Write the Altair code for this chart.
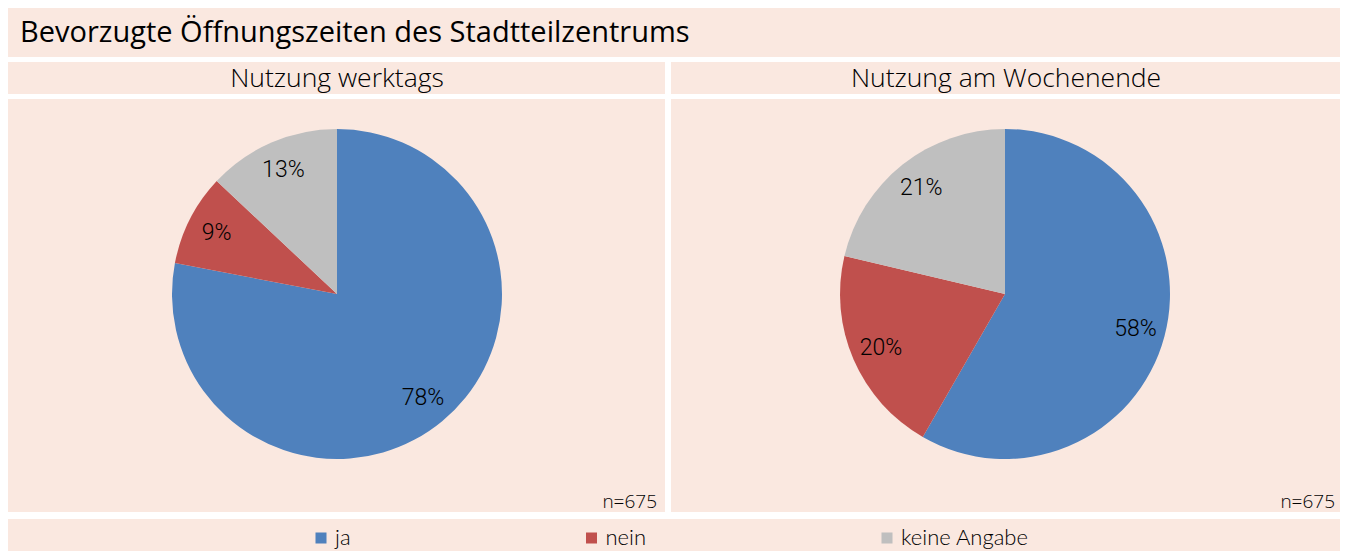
import altair as alt
import pandas as pd

# ---------------- data ----------------
title_text = "Bevorzugte Öffnungszeiten des Stadtteilzentrums"
panels = ["Nutzung werktags", "Nutzung am Wochenende"]
categories = ["ja", "nein", "keine Angabe"]
werktags = [78, 9, 13]
wochenende = [58.3, 20.4, 21.3]
n_values = [675, 675]
colors = ["#4F81BD", "#C0504D", "#BFBFBF"]

BG = "#FAE8E0"
W, H = 1332, 543
TITLE_FONT = "Open Sans"
HEAD_FONT = "Open Sans"
LEG_FONT = "Lato"
LABEL_FONT = "Roboto"

rows = []
for p, vals in zip(panels, [werktags, wochenende]):
    for i, (c, v) in enumerate(zip(categories, vals)):
        rows.append({"panel": p, "cat": c, "idx": i, "value": v, "label": f"{round(v)}%"})
df = pd.DataFrame(rows)

one = pd.DataFrame({"k": [0]})


def rect(x, x2, y, y2):
    return alt.Chart(one).mark_rect(color=BG).encode(
        x=alt.value(x), x2=alt.value(x2), y=alt.value(y), y2=alt.value(y2)
    )


def text(t, x, y, size, font, align="center", weight="normal"):
    return alt.Chart(one).mark_text(
        font=font, fontSize=size, align=align, baseline="alphabetic",
        color="#000000", fontWeight=weight
    ).encode(x=alt.value(x), y=alt.value(y), text=alt.value(t))


layers = [
    rect(0, 1332, 0, 49),      # title bar
    rect(0, 657, 54, 86),      # header left
    rect(663, 1332, 54, 86),   # header right
    rect(0, 657, 91, 504),     # panel left
    rect(663, 1332, 91, 504),  # panel right
    rect(0, 1332, 511, 543),   # legend bar
    text(title_text, 12, 34, 29, TITLE_FONT, align="left"),
    text(panels[0], 329, 79, 26.5, HEAD_FONT, weight=300),
    text(panels[1], 998, 79, 26.5, HEAD_FONT, weight=300),
    text(f"n={n_values[0]}", 649, 500, 19, HEAD_FONT, align="right", weight=300),
    text(f"n={n_values[1]}", 1327, 500, 19, HEAD_FONT, align="right", weight=300),
]

centers = [(329, 286), (997, 286)]
color_scale = alt.Scale(domain=categories, range=colors)
for p, (cx, cy) in zip(panels, centers):
    base = alt.Chart(df).transform_filter(alt.datum.panel == p)
    arc = base.mark_arc(outerRadius=165).encode(
        x=alt.value(cx), y=alt.value(cy),
        theta=alt.Theta("value:Q", stack=True),
        color=alt.Color(
            "cat:N", scale=color_scale, sort=categories,
            legend=alt.Legend(
                title=None, orient="none", direction="horizontal",
                legendX=302, legendY=519, padding=0,
                symbolType="square", symbolSize=121, symbolStrokeWidth=0,
                labelFont=LEG_FONT, labelFontSize=22, labelColor="#000000",
                labelOffset=3, columnPadding=229.5, labelFontWeight=300,
            ),
        ),
        order=alt.Order("idx:Q"),
    )
    lab = base.mark_text(
        radius=135, font=LABEL_FONT, fontSize=23, color="#000000",
        align="center", baseline="middle", fontWeight=300
    ).encode(
        x=alt.value(cx), y=alt.value(cy),
        theta=alt.Theta("value:Q", stack=True),
        order=alt.Order("idx:Q"),
        text="label:N",
    )
    layers += [arc, lab]

chart = alt.layer(*layers).properties(
    width=W, height=H, background="#FFFFFF", padding=0,
    autosize=alt.AutoSizeParams(type="none"),
).resolve_scale(theta="independent").configure_view(stroke=None)

chart.save("out.html", embed_options={"renderer": "svg", "actions": False})
